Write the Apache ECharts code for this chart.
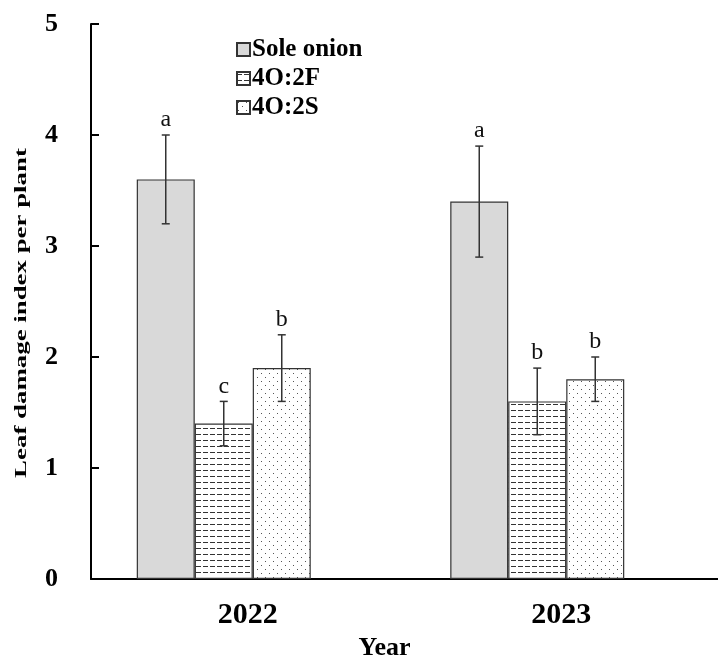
<!DOCTYPE html>
<html>
<head>
<meta charset="utf-8">
<script src="https://cdn.jsdelivr.net/npm/echarts@6/dist/echarts.min.js"></script>
<style>html,body{margin:0;padding:0;background:#fff}#c{width:718px;height:660px}</style>
</head>
<body>
<div id="c"></div>
<script>
// ---- data ----
const categories = ['2022', '2023'];
const seriesNames = ['Sole onion', '4O:2F', '4O:2S'];
const soleOnion = [3.6, 3.4];
const o4f2 = [1.4, 1.6];
const o4s2 = [1.9, 1.8];
const soleOnionErr = [0.4, 0.5];
const o4f2Err = [0.2, 0.3];
const o4s2Err = [0.3, 0.2];
const soleOnionLetters = ['a', 'a'];
const o4f2Letters = ['c', 'b'];
const o4s2Letters = ['b', 'b'];
const yMin = 0, yMax = 5, yStep = 1;

// ---- styles ----
const FONT = '"Liberation Serif", "Times New Roman", serif';
const BAR_W = 58, DUMMY_W = 48;
const GROUP_W = BAR_W * 3 + DUMMY_W;

function makePattern(kind) {
  const c = document.createElement('canvas');
  const ctx = c.getContext('2d');
  if (kind === 'dash') {
    c.width = 7; c.height = 6;
    ctx.fillStyle = '#fff'; ctx.fillRect(0, 0, 7, 6);
    ctx.fillStyle = '#333'; ctx.fillRect(0, 2, 5, 1);
  } else {
    c.width = 8; c.height = 8;
    ctx.fillStyle = '#fff'; ctx.fillRect(0, 0, 8, 8);
    ctx.fillStyle = '#555';
    ctx.fillRect(1, 1, 1, 1);
    ctx.fillRect(5, 5, 1, 1);
  }
  return { image: c, repeat: 'repeat' };
}

const values = [soleOnion, o4f2, o4s2];
const errs = [soleOnionErr, o4f2Err, o4s2Err];
const letters = [soleOnionLetters, o4f2Letters, o4s2Letters];
const fills = ['#d9d9d9', makePattern('dash'), makePattern('dot')];

const barSeries = seriesNames.map((name, k) => ({
  name: name,
  type: 'bar',
  barWidth: BAR_W,
  barGap: '0%',
  data: values[k],
  itemStyle: { color: fills[k], borderColor: '#333', borderWidth: 1.2 },
  emphasis: { disabled: true },
  z: 2
}));

const dummy = {
  name: '_spacer', type: 'bar', barWidth: DUMMY_W, barGap: '0%',
  data: categories.map(() => '-'), silent: true
};

const errSeries = seriesNames.map((name, k) => ({
  type: 'custom',
  silent: true,
  z: 5,
  data: categories.map((c, i) => [i, values[k][i], errs[k][i]]),
  renderItem: function (params, api) {
    const i = api.value(0), v = api.value(1), e = api.value(2);
    const center = api.coord([i, v])[0];
    const x = center - GROUP_W / 2 + BAR_W * k + BAR_W / 2;
    const yt = api.coord([i, v + e])[1];
    const yb = api.coord([i, v - e])[1];
    const cap = 4;
    const st = { stroke: '#333', lineWidth: 1.5 };
    return {
      type: 'group',
      children: [
        { type: 'line', shape: { x1: x, y1: yt, x2: x, y2: yb }, style: st },
        { type: 'line', shape: { x1: x - cap, y1: yt, x2: x + cap, y2: yt }, style: st },
        { type: 'line', shape: { x1: x - cap, y1: yb, x2: x + cap, y2: yb }, style: st },
        { type: 'text', x: x, y: yt - 3,
          style: { text: letters[k][params.dataIndex], fill: '#111',
                   font: '24px ' + FONT, textAlign: 'center', textVerticalAlign: 'bottom' } }
      ]
    };
  }
}));

const chart = echarts.init(document.getElementById('c'), null, { renderer: 'canvas' });
chart.setOption({
  animation: false,
  backgroundColor: '#fff',
  grid: { left: 91, right: 0, top: 24, bottom: 81, containLabel: false, outerBoundsMode: 'none' },
  legend: {
    data: seriesNames,
    orient: 'vertical',
    left: 231, top: 32,
    itemWidth: 13, itemHeight: 13, itemGap: 4,
    icon: 'rect',
    selectedMode: false,
    textStyle: { fontFamily: FONT, fontWeight: 'bold', fontSize: 25, color: '#000', padding: [0, 0, 0, -3] }
  },
  xAxis: {
    type: 'category',
    data: categories,
    axisLine: { lineStyle: { color: '#000', width: 2 } },
    axisTick: { show: false },
    axisLabel: { fontFamily: FONT, fontWeight: 'bold', fontSize: 30, color: '#000', margin: 21 },
    name: 'Year', nameLocation: 'middle', nameGap: 55,
    nameTextStyle: { fontFamily: FONT, fontWeight: 'bold', fontSize: 26, color: '#000', padding: [0, 40, 0, 0] }
  },
  yAxis: {
    type: 'value', min: yMin, max: yMax, interval: yStep,
    axisLine: { show: true, lineStyle: { color: '#000', width: 2 } },
    axisTick: { show: true, inside: true, length: 8, lineStyle: { color: '#000', width: 2 } },
    splitLine: { show: false },
    axisLabel: { fontFamily: FONT, fontWeight: 'bold', fontSize: 26, color: '#000', margin: 33 }
  },
  graphic: [{
    type: 'text', x: 22, y: 313, rotation: Math.PI / 2, scaleX: 1.58,
    style: { text: 'Leaf damage index per plant', font: 'bold 17px ' + FONT, fill: '#000',
             textAlign: 'center', textVerticalAlign: 'middle' }
  }],
  series: barSeries.concat([dummy]).concat(errSeries)
});
</script>
</body>
</html>
